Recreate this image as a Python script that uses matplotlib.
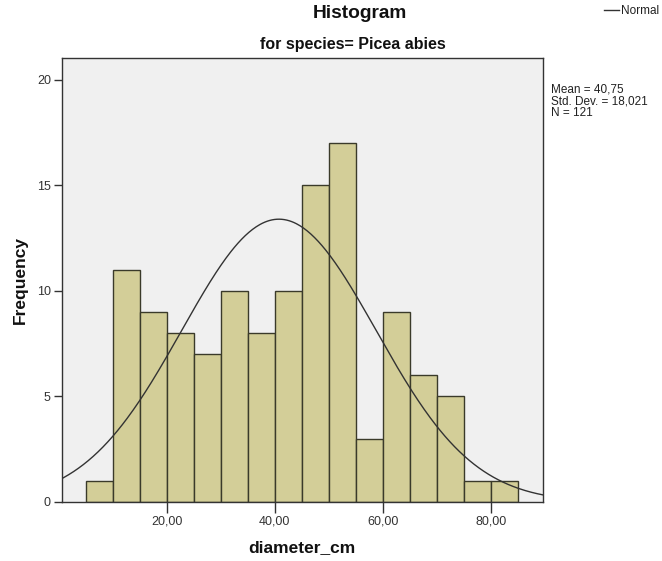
import numpy as np
import matplotlib
matplotlib.use("Agg")
import matplotlib.pyplot as plt

plt.rcParams['font.family'] = ['Liberation Sans', 'DejaVu Sans']

bin_edges = [5, 10, 15, 20, 25, 30, 35, 40, 45, 50, 55, 60, 65, 70, 75, 80, 85]
counts = [1, 11, 9, 8, 7, 10, 8, 10, 15, 17, 3, 9, 6, 5, 1, 1]
mean_val = 40.75
std_val = 18.021
n_val = 121
xticks = [20, 40, 60, 80]
xtick_labels = ["20,00", "40,00", "60,00", "80,00"]
yticks = [0, 5, 10, 15, 20]
stats_lines = ["Mean = 40,75", "Std. Dev. = 18,021", "N = 121"]

fig = plt.figure(figsize=(6.62, 5.61), dpi=100)
ax = fig.add_axes([62/662, 1-502/561, (542.5-62)/662, (502-57.5)/561])
ax.set_facecolor('#f0f0f0')

edges = np.array(bin_edges, dtype=float)
widths = np.diff(edges)
ax.bar(edges[:-1], counts, width=widths, align='edge', color='#d3ce98',
       edgecolor='#3a3a2a', linewidth=1.0, zorder=2)

xs = np.linspace(0, 90, 400)
bw = widths[0]
pdf = n_val * bw / (std_val * np.sqrt(2*np.pi)) * np.exp(-0.5*((xs-mean_val)/std_val)**2)
ax.plot(xs, pdf, color='#333333', linewidth=1.0, zorder=3)

ax.set_xlim(0.55, 89.6)
ax.set_ylim(0, 21.05)
ax.set_xticks(xticks)
ax.set_xticklabels(xtick_labels)
ax.set_yticks(yticks)
ax.tick_params(axis='x', direction='out', length=8, width=1, color='#333333',
               labelsize=9, labelcolor='#333333', pad=2)
ax.tick_params(axis='y', direction='out', length=6, width=1, color='#333333',
               labelsize=9, labelcolor='#333333', pad=2)
for s in ax.spines.values():
    s.set_color('#333333')
    s.set_linewidth(1.0)

fig.text(302/662, 1-548/561, "diameter_cm", ha='center', va='center',
         fontsize=12.5, fontweight='bold', color='#111111')
fig.text(20/662, 1-280/561, "Frequency", ha='center', va='center', rotation=90,
         fontsize=12.5, fontweight='bold', color='#111111')
fig.text(360/662, 1-13/561, "Histogram", ha='center', va='center',
         fontsize=13.8, fontweight='bold', color='#111111')
fig.text(353/662, 1-44/561, "for species= Picea abies", ha='center', va='center',
         fontsize=11.5, fontweight='bold', color='#111111')

fig.lines.append(plt.Line2D([604/662, 619/662], [1-10/561, 1-10/561],
                            transform=fig.transFigure, color='#333333', linewidth=1.0))
fig.text(621/662, 1-14/561, "Normal", ha='left', va='baseline', fontsize=8.5, color='#222222')
for i, line in enumerate(stats_lines):
    fig.text(551/662, 1-(93 + 11.5*i)/561, line, ha='left', va='baseline',
             fontsize=8.5, color='#222222')

fig.savefig("out.png", dpi=100)
